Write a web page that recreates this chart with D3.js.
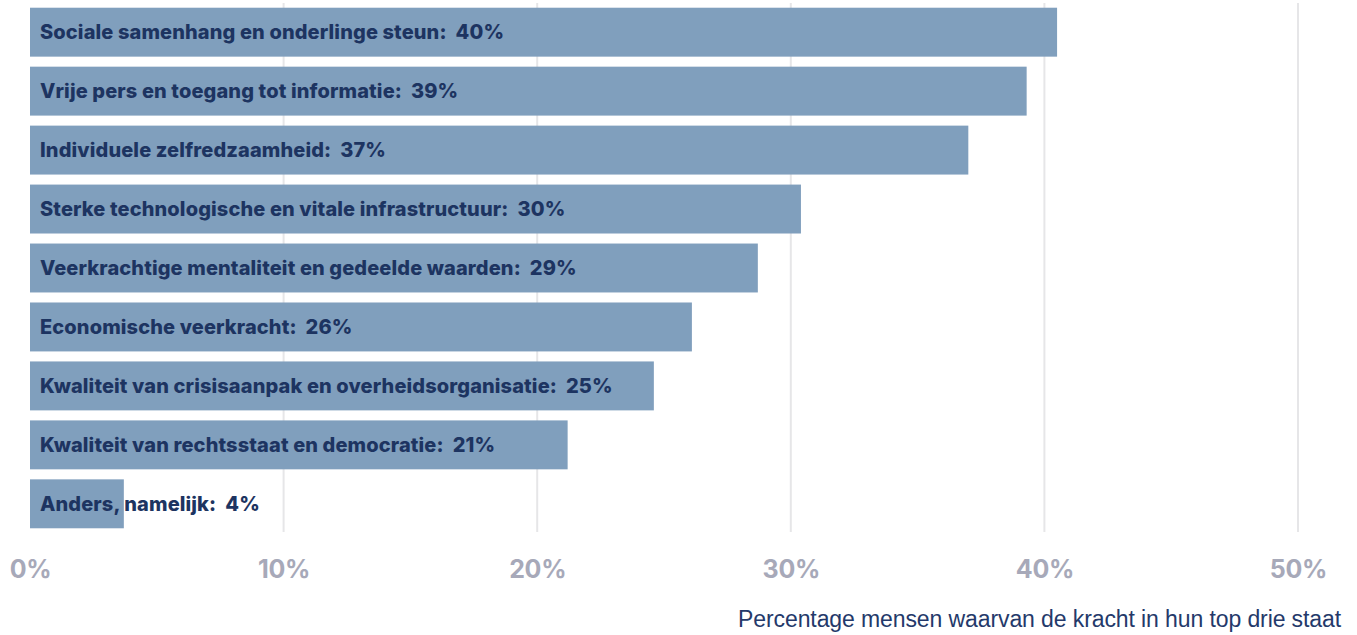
<!DOCTYPE html>
<html><head><meta charset="utf-8">
<script src="https://cdn.jsdelivr.net/npm/d3@7"></script>
<style>body{margin:0;background:#fff}svg{display:block}</style>
</head><body>
<svg id="c" width="1357" height="635"></svg>
<script>
const categories = [
  "Sociale samenhang en onderlinge steun",
  "Vrije pers en toegang tot informatie",
  "Individuele zelfredzaamheid",
  "Sterke technologische en vitale infrastructuur",
  "Veerkrachtige mentaliteit en gedeelde waarden",
  "Economische veerkracht",
  "Kwaliteit van crisisaanpak en overheidsorganisatie",
  "Kwaliteit van rechtsstaat en democratie",
  "Anders, namelijk"
];
const values = [40.5, 39.3, 37.0, 30.4, 28.7, 26.1, 24.6, 21.2, 3.7];
const labelValues = [40, 39, 37, 30, 29, 26, 25, 21, 4];
const tickValues = [0, 10, 20, 30, 40, 50];
const axisTitle = "Percentage mensen waarvan de kracht in hun top drie staat";

const svg = d3.select("#c");
const x = d3.scaleLinear().domain([0, 50]).range([30, 1298]);
const y = d3.scaleBand().domain(categories).range([3, 533]).paddingInner(0.17).paddingOuter(0.08);

// gridlines
svg.append("g").selectAll("line").data(tickValues.slice(1)).join("line")
  .attr("x1", d => x(d)).attr("x2", d => x(d))
  .attr("y1", 3).attr("y2", 532)
  .attr("stroke", "#e6e6e8").attr("stroke-width", 2);

// bars
svg.append("g").selectAll("rect").data(categories).join("rect")
  .attr("x", x(0)).attr("y", d => y(d))
  .attr("width", (d, i) => x(values[i]) - x(0))
  .attr("height", y.bandwidth())
  .attr("fill", "#809fbd");

// labels
svg.append("g").selectAll("text").data(categories).join("text")
  .attr("x", 40).attr("y", d => y(d) + y.bandwidth() / 2)
  .attr("dy", "0.36em")
  .attr("font-family", "Inter, Liberation Sans, Arial, sans-serif")
  .attr("font-weight", 800).attr("font-size", 20)
  .attr("letter-spacing", 0.12)
  .attr("fill", "#1d3461")
  .attr("xml:space", "preserve")
  .text((d, i) => d + ":  " + labelValues[i] + "%");

// x axis
const axis = d3.axisBottom(x).tickValues(tickValues).tickFormat(d => d + "%").tickSize(0).tickPadding(0);
const ag = svg.append("g").attr("transform", "translate(0,558)").call(axis);
ag.select(".domain").remove();
ag.selectAll("text")
  .attr("font-family", "Inter, Liberation Sans, Arial, sans-serif")
  .attr("font-weight", 700).attr("font-size", 25)
  .attr("letter-spacing", -0.3)
  .attr("fill", "#a7a9b9").attr("dy", "0")
  .attr("y", 20);

svg.append("text")
  .attr("x", 1341).attr("y", 627)
  .attr("text-anchor", "end")
  .attr("font-family", "Liberation Sans, Arial, sans-serif")
  .attr("font-size", 23).attr("letter-spacing", -0.1)
  .attr("fill", "#24396a")
  .text(axisTitle);
</script>
</body></html>
